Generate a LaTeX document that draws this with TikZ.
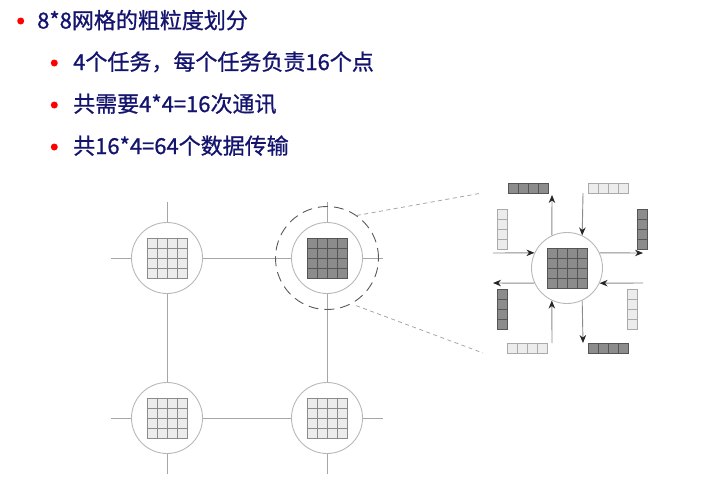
\documentclass[tikz,border=0pt]{standalone}
\usepackage{fontspec}
\setmainfont{Noto Sans CJK SC}[FakeBold=0.9]
\usetikzlibrary{arrows.meta}

\definecolor{navy}{RGB}{20,20,110}
\definecolor{lightcell}{RGB}{236,236,236}
\definecolor{lightline}{RGB}{140,140,140}
\definecolor{barline}{RGB}{170,170,170}
\definecolor{darkcell}{RGB}{140,140,140}
\definecolor{darkline}{RGB}{85,85,85}

\tikzset{
    pics/cells/.style n args={4}{code={
        \foreach \ci in {1,...,#1} {
            \foreach \ri in {1,...,#2} {
                \filldraw[fill=#3, draw=#4, line width=0.8pt] ({(\ci-1-#1/2)*10}, {(\ri-1-#2/2)*10}) rectangle ++(10,10);
            }
        }
    }}
}

\begin{document}
\begin{tikzpicture}[x=1pt, y=-1pt,
    bullet/.style={circle, fill=red, inner sep=0, minimum size=7},
    txt/.style={anchor=base west, inner sep=0, text=navy, font=\fontsize{22}{26}\selectfont},
    tasknode/.style={circle, draw=black!28, line width=0.9pt, minimum size=71, inner sep=0},
    ring/.style={circle, draw=black!65, line width=0.9pt, dash pattern=on 10pt off 6pt, minimum size=103, inner sep=0},
    link/.style={draw=black!35, line width=0.9pt},
    callout/.style={draw=black!35, line width=0.8pt, dash pattern=on 4pt off 3.5pt},
    flow/.style={draw=black!45, line width=0.9pt, -{Stealth[length=8pt, width=6.5pt, black!85]}}]
    \useasboundingbox (0,0) rectangle (701,480);

    % Bullet list
    \node[bullet] (b1) at (20.7,21) {};
    \node[txt] (t1) at (37,28.5) {8*8网格的粗粒度划分};
    \foreach \i/\y/\s in {2/70/{4个任务，每个任务负责16个点}, 3/112/{共需要4*4=16次通讯}, 4/154/{共16*4=64个数据传输}} {
        \node[bullet] (b\i) at (54.3,\y-7) {};
        \node[txt] (t\i) at (73,\y) {\s};
    }

    % Coarse 2x2 task grid
    \foreach \n/\x/\y in {a/167/258, b/327/258, c/167/418, d/327/418} {
        \node[tasknode] (\n) at (\x,\y) {};
    }
    \foreach \n/\f/\l in {a/lightcell/lightline, b/darkcell/darkline, c/lightcell/lightline, d/lightcell/lightline} {
        \pic at (\n) {cells={4}{4}{\f}{\l}};
    }

    % Links between tasks
    \draw[link] (a) -- (b) (a) -- (c) (b) -- (d) (c) -- (d);

    % Links leaving the grid
    \foreach \n/\d/\dx/\dy in {a/west/-20/0, a/north/0/-20, b/north/0/-20, b/east/20/0, c/west/-20/0, c/south/0/20, d/east/20/0, d/south/0/20} {
        \path (\n.\d) ++(\dx,\dy) coordinate (\n\d);
        \draw[link] (\n.\d) -- (\n\d);
    }

    % Zoom on one task
    \node[ring] (zoom) at (b) {};
    \coordinate (zt) at (482,193);
    \coordinate (zb) at (483,353);
    \draw[callout] (zoom.55) -- (zt);
    \draw[callout, shorten <=5pt] (zoom.-62) -- (zb);

    % Task in detail
    \node[tasknode] (big) at (567,268) {};
    \pic at (big) {cells={4}{4}{darkcell}{darkline}};

    % Boundary rows and columns
    \foreach \x/\y/\nc/\nr/\f/\l in {528/188/4/1/darkcell/darkline, 608/188/4/1/lightcell/barline,
                                      527/348/4/1/lightcell/barline, 608/348/4/1/darkcell/darkline,
                                      502/229/1/4/lightcell/barline, 642/229/1/4/darkcell/darkline,
                                      502/309/1/4/darkcell/darkline, 632/309/1/4/lightcell/barline} {
        \pic at (\x,\y) {cells={\nc}{\nr}{\f}{\l}};
    }

    % Outgoing data
    \foreach \a/\x/\y [count=\i] in {115/552/195, 25/643/253, 205/493/283, -65/583/343} {
        \coordinate (out\i) at (\x,\y);
        \draw[flow] (big.\a) -- (out\i);
    }

    % Incoming data
    \foreach \a/\x/\y [count=\i] in {65/583/193, 155/493/253, -25/643/283, 245/552/343} {
        \coordinate (in\i) at (\x,\y);
        \draw[flow] (in\i) -- (big.\a);
    }
\end{tikzpicture}
\end{document}
